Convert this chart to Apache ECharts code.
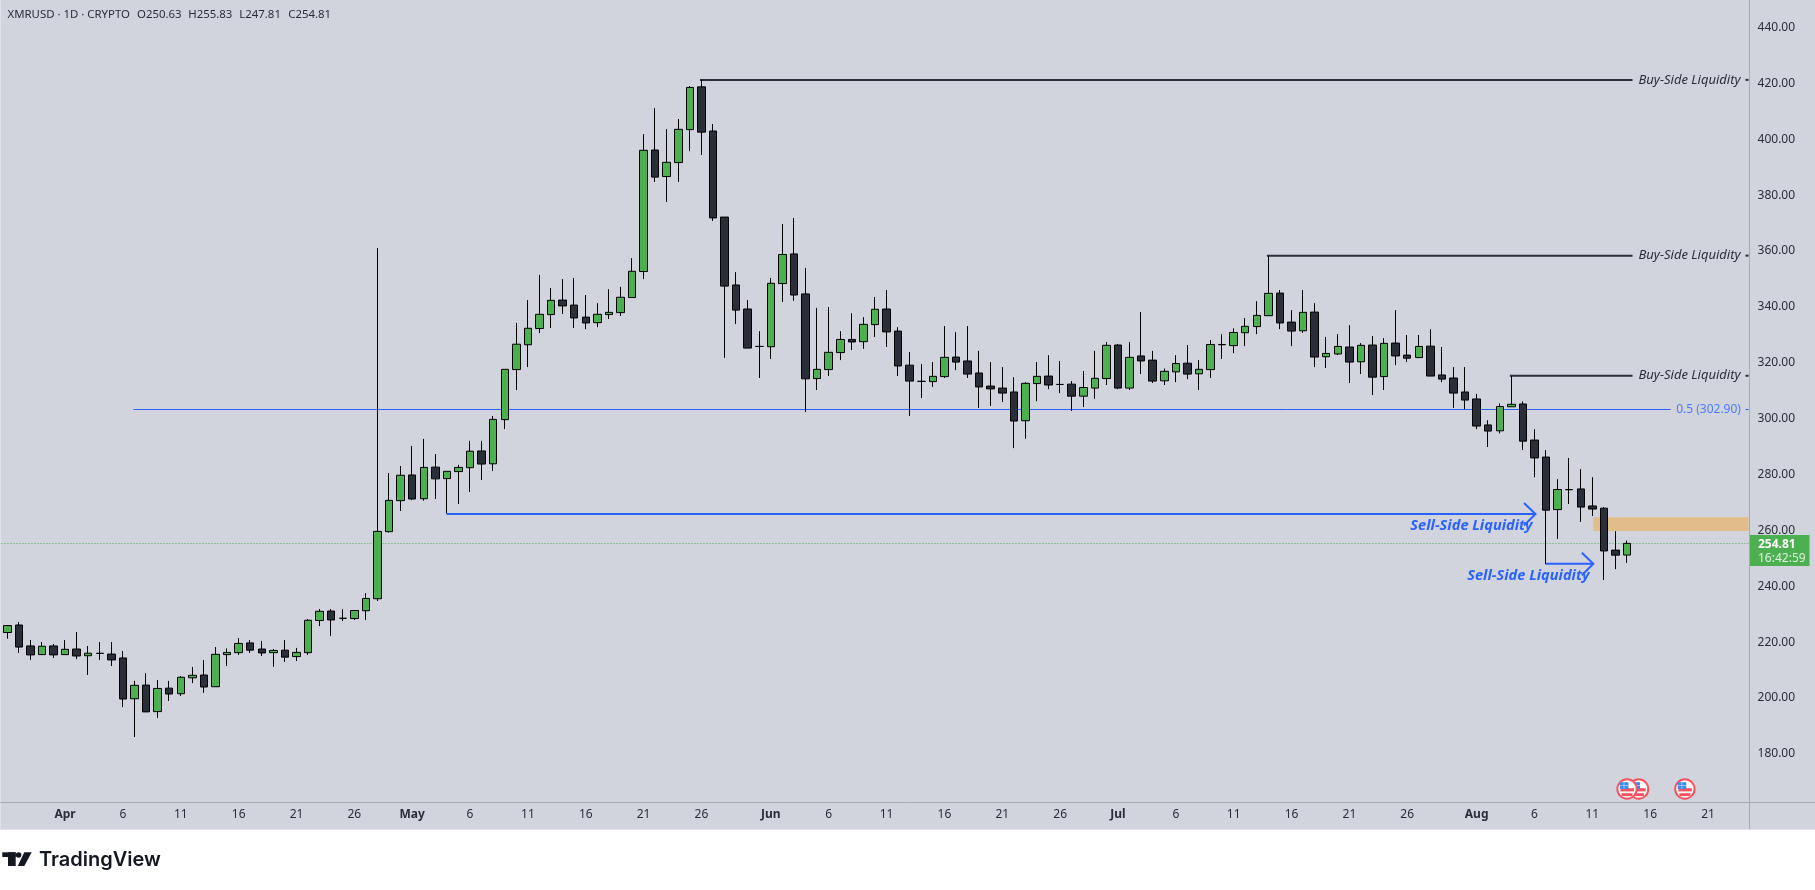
<!DOCTYPE html>
<html><head><meta charset="utf-8">
<style>html,body{margin:0;padding:0;background:#fff}#c{width:1815px;height:890px}</style>
<script src="https://cdn.jsdelivr.net/npm/echarts@6/dist/echarts.min.js"></script>
</head><body><div id="c"></div>
<script>
const categories = ['03-27','03-28','03-29','03-30','03-31',
'04-01','04-02','04-03','04-04','04-05','04-06','04-07','04-08','04-09','04-10','04-11','04-12','04-13','04-14','04-15','04-16','04-17','04-18','04-19','04-20','04-21','04-22','04-23','04-24','04-25','04-26','04-27','04-28','04-29','04-30',
'05-01','05-02','05-03','05-04','05-05','05-06','05-07','05-08','05-09','05-10','05-11','05-12','05-13','05-14','05-15','05-16','05-17','05-18','05-19','05-20','05-21','05-22','05-23','05-24','05-25','05-26','05-27','05-28','05-29','05-30','05-31',
'06-01','06-02','06-03','06-04','06-05','06-06','06-07','06-08','06-09','06-10','06-11','06-12','06-13','06-14','06-15','06-16','06-17','06-18','06-19','06-20','06-21','06-22','06-23','06-24','06-25','06-26','06-27','06-28','06-29','06-30',
'07-01','07-02','07-03','07-04','07-05','07-06','07-07','07-08','07-09','07-10','07-11','07-12','07-13','07-14','07-15','07-16','07-17','07-18','07-19','07-20','07-21','07-22','07-23','07-24','07-25','07-26','07-27','07-28','07-29','07-30','07-31',
'08-01','08-02','08-03','08-04','08-05','08-06','08-07','08-08','08-09','08-10','08-11','08-12','08-13','08-14','08-15','08-16','08-17','08-18','08-19','08-20','08-21','08-22','08-23','08-24'];

const opens = [222.9,225.6,218.1,215.0,218.1,215.0,217.0,214.6,215.5,215.2,
213.8,199.2,204.1,194.6,203.0,201.0,206.7,207.7,203.5,215.0,
215.7,219.2,217.0,215.7,216.6,214.3,215.7,227.2,230.6,228.0,
227.9,230.7,235.0,259.0,270.1,279.3,270.8,282.1,278.0,280.5,
281.9,287.9,283.3,299.1,317.0,325.9,331.7,336.7,341.9,340.1,
335.8,333.8,336.7,337.4,342.8,352.1,395.6,386.1,391.1,402.9,
418.2,402.4,371.6,347.3,338.7,325.3,325.2,347.8,358.4,344.1,
313.8,317.0,323.1,327.8,327.0,333.1,338.7,330.8,318.6,312.8,
312.7,314.5,321.5,320.1,315.8,311.1,310.4,309.0,298.7,312.0,
314.7,311.7,311.8,307.5,310.4,313.8,325.8,310.4,321.9,320.4,
313.0,316.2,319.3,315.5,317.0,325.9,325.6,330.2,332.4,336.3,
344.4,334.0,330.9,337.6,321.6,322.6,325.1,319.8,325.8,314.5,
326.5,322.2,321.3,325.4,315.1,314.0,309.0,306.5,297.2,295.1,
303.7,304.7,291.8,285.7,266.9,274.1,274.3,268.2,267.4,252.4,250.63];

const closes = [225.4,217.7,214.9,218.0,214.9,216.9,214.5,215.5,215.4,213.1,
199.1,204.0,194.5,202.9,200.9,206.9,207.6,203.4,215.1,215.8,
219.0,216.6,215.6,216.5,214.1,215.8,227.3,230.5,227.4,228.0,
230.8,235.1,259.1,270.2,279.2,270.7,282.0,277.9,280.6,282.0,
287.8,283.2,299.2,317.1,326.1,331.8,336.8,341.8,339.8,335.5,
333.7,336.8,337.5,342.9,352.2,395.5,385.9,391.2,403.0,418.0,
402.0,371.3,346.9,338.3,324.7,325.3,347.9,358.2,343.7,313.7,
317.1,323.2,327.8,326.9,333.2,338.6,330.5,318.3,312.9,312.8,
314.6,321.4,319.7,315.4,310.8,310.1,308.6,298.6,312.1,314.6,
311.5,311.7,307.5,310.6,313.9,325.7,310.4,321.4,320.1,312.9,
316.4,319.2,315.4,317.1,326.0,326.0,330.3,332.5,336.4,344.3,
333.7,330.8,337.5,321.5,322.8,325.3,319.7,325.7,314.3,326.4,
321.9,321.1,325.3,314.7,313.6,308.6,306.1,296.8,295.0,303.8,
304.6,291.4,285.4,266.7,274.1,274.0,267.8,267.1,252.1,250.6,254.81];

const lows = [220.7,215.6,213.1,214.9,213.8,214.9,213.4,207.7,213.1,210.9,
196.2,185.5,194.5,192.3,198.4,200.2,204.8,201.3,203.5,210.9,
214.9,215.6,214.5,210.6,212.4,212.7,214.9,225.2,221.7,227.0,
227.4,227.4,234.2,258.7,266.4,270.3,270.1,270.7,265.6,268.9,
273.2,277.5,280.7,295.7,309.7,317.9,330.1,331.9,336.9,331.9,
331.5,332.2,335.1,336.2,342.8,349.4,384.2,377.0,384.2,395.2,
393.8,370.2,321.2,333.3,324.7,314.0,320.8,341.2,341.6,301.8,
309.7,314.7,320.4,324.0,324.4,328.7,325.1,314.7,300.4,306.8,
310.8,314.0,316.8,314.0,303.3,304.0,305.4,288.9,292.2,305.7,
310.0,308.6,302.2,303.6,306.5,311.5,310.0,309.7,315.4,312.2,
311.5,312.5,313.6,309.7,314.0,320.8,322.9,325.4,329.7,336.3,
331.5,325.4,330.1,317.9,317.6,322.2,312.2,315.4,307.9,309.7,
318.6,319.7,321.3,314.7,312.5,303.3,302.9,295.7,289.3,294.2,
303.7,288.2,278.5,247.4,256.4,268.9,262.5,264.6,241.7,245.6,247.81];

const highs = [225.4,226.7,220.2,219.5,218.8,220.2,223.1,218.1,219.5,219.5,
216.3,205.6,208.4,205.9,205.6,207.3,210.6,213.1,217.7,217.2,
220.9,220.2,219.9,217.0,220.2,217.4,227.7,231.3,231.3,231.3,
230.8,237.0,360.5,280.0,282.5,289.7,292.2,286.8,280.6,282.9,
291.5,291.5,300.4,317.1,333.7,341.9,350.9,346.2,349.4,349.8,
343.7,340.8,345.8,346.6,356.9,401.3,410.6,403.1,406.7,418.5,
420.7,404.9,371.6,351.9,341.9,330.8,349.8,369.1,371.3,353.4,
339.1,339.4,330.8,337.2,335.8,343.0,345.5,332.2,323.3,319.0,
319.7,332.6,330.4,332.6,323.7,319.7,317.9,314.3,312.5,319.7,
322.2,320.1,312.9,316.5,323.7,326.9,326.2,326.9,337.6,323.7,
317.4,322.2,325.8,320.4,327.6,329.7,331.8,335.5,341.5,357.6,
345.5,338.3,345.5,340.8,328.7,329.7,332.9,326.5,329.0,328.3,
338.3,329.4,329.4,331.5,325.1,317.9,317.9,308.3,298.9,304.9,
314.7,305.6,295.7,288.2,277.8,285.4,281.4,278.5,267.8,259.2,255.83];

const yTicks = [180,200,220,240,260,280,300,320,340,360,380,400,420,440];
const xTickDates  = ['04-01','04-06','04-11','04-16','04-21','04-26','05-01','05-06','05-11','05-16','05-21','05-26','06-01','06-06','06-11','06-16','06-21','06-26','07-01','07-06','07-11','07-16','07-21','07-26','08-01','08-06','08-11','08-16','08-21'];
const xTickLabels = ['Apr','6','11','16','21','26','May','6','11','16','21','26','Jun','6','11','16','21','26','Jul','6','11','16','21','26','Aug','6','11','16','21'];

const buyStart  = ['05-26','07-14','08-04'];
const buyPrice  = [420.7,357.8,314.8];
const fibStart  = '04-07';
const fibPrice  = 302.9;
const sellStart = ['05-04','08-07'];
const sellEnd   = ['08-06','08-11'];
const sellPrice = [265.3,247.5];
const zoneStart = '08-11';
const zoneTop   = 264.2;
const zoneBottom= 259.2;
const lastPrice = 254.81;
const eventDates= ['08-15','08-14','08-19'];
const flagPrice = 166.9;
const headerParts = ['XMRUSD · 1D · CRYPTO','O250.63','H255.83','L247.81','C254.81'];

const INK='#2a2e39', BLUE='#2962ff', GREEN='#4caf50', FONT='"Noto Sans"';
const chart = echarts.init(document.getElementById('c'),null,{renderer:'canvas'});
const monthNames=['Apr','May','Jun','Jul','Aug'];
const headerX=[7.5,137,188.3,239.3,288.3];

function drawFlag(x,y){
  return {type:'group',x:x,y:y,children:[
    {type:'circle',shape:{cx:0,cy:0,r:9.7},style:{fill:'#fff',stroke:'#f7525f',lineWidth:2}},
    {type:'rect',shape:{x:-6.5,y:-0.8,width:13.5,height:3.2},style:{fill:'#f7525f'}},
    {type:'rect',shape:{x:-5.5,y:4.2,width:11,height:2.9},style:{fill:'#f7525f'}},
    {type:'rect',shape:{x:-7.2,y:-6.8,width:8.6,height:6.8},style:{fill:'#3d8ae8'}},
    {type:'line',shape:{x1:-6.8,y1:-3.5,x2:1.2,y2:-3.5},style:{stroke:'#cfe2fa',lineWidth:.6}},
    {type:'line',shape:{x1:-3,y1:-6.6,x2:-3,y2:0},style:{stroke:'#cfe2fa',lineWidth:.6}}
  ]};
}

function renderDrawings(params,api){
  const P=(d,p)=>api.coord([categories.indexOf(d),p]);
  const plotLeft=params.coordSys.x, plotRight=params.coordSys.x+params.coordSys.width;
  const seg=(x1,y1,x2,y2,color,w,dash)=>({type:'line',shape:{x1,y1,x2,y2},style:{stroke:color,lineWidth:w,lineDash:dash||null}});
  const txt=(t,x,y,color,font,align)=>({type:'text',x,y,style:{text:t,fill:color,font,align:align||'center',verticalAlign:'middle'}});
  const kids=[];
  const zt=P(zoneStart,zoneTop), zb=P(zoneStart,zoneBottom);
  kids.push({type:'rect',shape:{x:zt[0]+1,y:zt[1],width:plotRight-zt[0]-1,height:zb[1]-zt[1]},style:{fill:'#e2bd8a'}});
  const py=P(zoneStart,lastPrice)[1];
  kids.push(seg(plotLeft,Math.round(py)+.5,plotRight,Math.round(py)+.5,GREEN,1,[1,2]));
  const fy=Math.round(P(fibStart,fibPrice)[1])+.5, fx=P(fibStart,fibPrice)[0];
  kids.push(seg(fx-1,fy,plotRight-78,fy,BLUE,1));
  kids.push(seg(plotRight-3,fy,plotRight,fy,BLUE,1));
  kids.push(txt('0.5 (302.90)',plotRight-40,fy,'#4a7bfa','12px '+FONT));
  buyStart.forEach((d,i)=>{
    const p=P(d,buyPrice[i]);
    kids.push(seg(p[0]-1.5,p[1],plotRight-116,p[1],INK,2));
    kids.push(seg(plotRight-3,p[1],plotRight,p[1],INK,2));
    kids.push(txt('Buy-Side Liquidity',plotRight-59,p[1],INK,'italic 13px '+FONT));
  });
  sellStart.forEach((d,i)=>{
    const a=P(d,sellPrice[i]), b=P(sellEnd[i],sellPrice[i]);
    kids.push(seg(a[0]-.5,a[1],b[0]+1,a[1],BLUE,2));
    kids.push({type:'polyline',shape:{points:[[b[0]-10.5,a[1]-11],[b[0]+1,a[1]],[b[0]-10.5,a[1]+11.5]]},style:{stroke:BLUE,lineWidth:2,fill:'none'}});
  });
  const s0=P(sellEnd[0],sellPrice[0]), s1=P(sellEnd[1],sellPrice[1]);
  kids.push(txt('Sell-Side Liquidity',s0[0]-63,s0[1]+12,BLUE,'italic bold 14.6px '+FONT));
  kids.push(txt('Sell-Side Liquidity',s1[0]-64,s1[1]+12,BLUE,'italic bold 14.6px '+FONT));
  eventDates.forEach(d=>{const p=P(d,flagPrice);kids.push(drawFlag(p[0],p[1]));});
  return {type:'group',children:kids};
}

chart.setOption({
  backgroundColor:'#ffffff',
  animation:false,
  graphic:{elements:[
    {type:'rect',z:-10,silent:true,shape:{x:0,y:0,width:1815,height:829},style:{fill:'#d1d4dc'}},
    {type:'rect',z:-9,silent:true,shape:{x:0,y:0,width:1,height:829},style:{fill:'#e0e3eb'}},
    {type:'rect',z:-9,silent:true,shape:{x:0,y:829,width:1815,height:1},style:{fill:'#e0e3eb'}},
    {type:'line',z:10,silent:true,shape:{x1:1749.5,y1:0,x2:1749.5,y2:829},style:{stroke:'#a6a9b1',lineWidth:1}},
    {type:'line',z:10,silent:true,shape:{x1:0,y1:802.5,x2:1815,y2:802.5},style:{stroke:'#a6a9b1',lineWidth:1}},
    ...headerParts.map((t,i)=>({type:'text',z:10,x:headerX[i],y:15,style:{text:t,fill:INK,font:'11.4px '+FONT,verticalAlign:'middle'}})),
    {type:'rect',z:10,shape:{x:1750,y:535,width:59.5,height:31},style:{fill:GREEN}},
    {type:'text',z:11,x:1758,y:545,style:{text:'254.81',fill:'#fff',font:'bold 12px '+FONT,verticalAlign:'middle'}},
    {type:'text',z:11,x:1758,y:558.5,style:{text:'16:42:59',fill:'#dff0e0',font:'12px '+FONT,verticalAlign:'middle'}},
    {type:'rect',z:10,shape:{x:2.3,y:852.3,width:13.4,height:4.7},style:{fill:'#131722'}},
    {type:'rect',z:10,shape:{x:8,y:852.3,width:7.7,height:13.7},style:{fill:'#131722'}},
    {type:'circle',z:10,shape:{cx:18.6,cy:855,r:2.8},style:{fill:'#131722'}},
    {type:'polygon',z:10,shape:{points:[[24.3,852.3],[31.7,852.3],[24.3,866],[17.8,866]]},style:{fill:'#131722'}},
    {type:'text',z:10,x:39,y:860,style:{text:'TradingView',fill:'#131722',font:'600 20px Inter',verticalAlign:'middle'}}
  ]},
  grid:{left:1.47,top:0,width:1747.07,height:802,outerBoundsMode:'none',containLabel:false},
  xAxis:{type:'category',data:categories,boundaryGap:true,
    axisLine:{show:false},axisTick:{show:false},splitLine:{show:false},
    axisLabel:{interval:(i,v)=>xTickDates.includes(v),hideOverlap:false,margin:7,color:INK,fontFamily:FONT,fontSize:12,
      formatter:v=>{const l=xTickLabels[xTickDates.indexOf(v)];return monthNames.includes(l)?'{b|'+l+'}':l;},
      rich:{b:{fontWeight:'bold',color:INK,fontFamily:FONT,fontSize:12}}}},
  yAxis:{type:'value',position:'right',min:162.25,max:449.29,scale:true,
    axisLine:{show:false},axisTick:{show:false},splitLine:{show:false},
    axisLabel:{customValues:yTicks,margin:9,color:INK,fontFamily:FONT,fontSize:12,align:'left',
      formatter:v=>'{t|'+v.toFixed(2)+'}',
      rich:{t:{color:INK,fontFamily:FONT,fontSize:12,padding:[3,0,0,0]}}}},
  series:[
    {type:'custom',name:'drawings',z:1,clip:false,silent:true,data:[0],coordinateSystem:'cartesian2d',renderItem:renderDrawings},
    {type:'candlestick',name:'XMRUSD',z:2,barWidth:8,
     data:opens.map((o,i)=>[o,closes[i],lows[i],highs[i]]),
     itemStyle:{color:GREEN,color0:INK,borderColor:'#000',borderColor0:'#000',borderColorDoji:'#000',borderWidth:1}}
  ]
});
</script></body></html>
